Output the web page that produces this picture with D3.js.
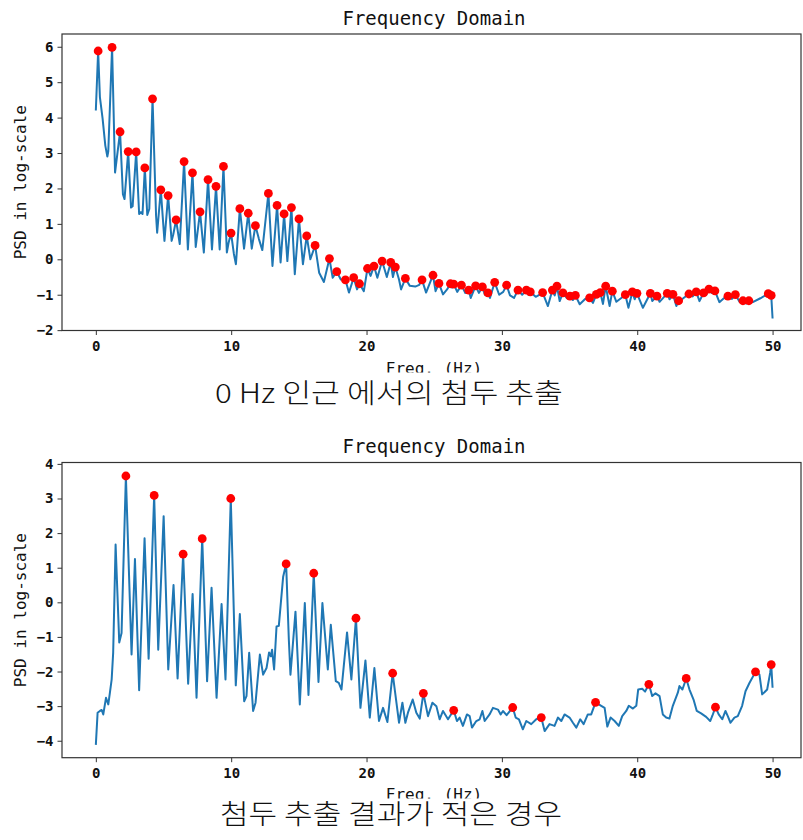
<!DOCTYPE html>
<html><head><meta charset="utf-8">
<script src="https://cdn.jsdelivr.net/npm/d3@7"></script>
<style>body{margin:0;background:#fff}svg{display:block}</style>
</head><body>
<svg id="c" width="803" height="840"></svg>
<script>
// ---------- data ----------
const xTicks = [0, 10, 20, 30, 40, 50];
const topYTicks = [-2, -1, 0, 1, 2, 3, 4, 5, 6];
const botYTicks = [-4, -3, -2, -1, 0, 1, 2, 3, 4];
const titleText = "Frequency Domain";
const xLabelText = "Freq. (Hz)";
const yLabelText = "PSD in log-scale";
const captions = ["0 Hz 인근 에서의 첨두 추출", "첨두 추출 결과가 적은 경우"];

// top panel: spectrum [freq, log PSD]
const topLine = [[0.0,4.20],[0.17,5.88],[0.3,4.58],[0.5,3.97],[0.7,3.21],[0.85,2.90],[0.92,3.05],[1.20,5.98],[1.42,2.45],[1.79,3.60],[2.0,1.84],[2.12,1.70],[2.39,3.04],[2.6,1.46],[2.72,1.50],[2.98,3.03],[3.2,1.28],[3.33,1.33],[3.45,1.28],[3.62,2.58],[3.8,1.25],[3.95,1.42],[4.19,4.53],[4.45,1.23],[4.53,0.75],[4.80,1.96],[5.07,0.52],[5.34,1.80],[5.6,0.52],[5.72,0.7],[5.93,1.11],[6.2,0.43],[6.52,2.76],[6.8,0.28],[7.14,2.44],[7.38,0.35],[7.70,1.34],[7.98,0.19],[8.29,2.25],[8.58,0.28],[8.88,2.06],[9.15,0.28],[9.43,2.62],[9.68,0.19],[9.8,0.45],[9.99,0.74],[10.2,0.15],[10.35,-0.14],[10.64,1.43],[10.95,0.3],[11.26,1.30],[11.52,0.3],[11.79,0.95],[12.05,0.57],[12.3,0.26],[12.75,1.86],[13.05,-0.19],[13.39,1.52],[13.65,-0.09],[13.91,1.28],[14.15,-0.05],[14.45,1.46],[14.7,-0.42],[15.01,1.14],[15.3,-0.14],[15.58,0.66],[15.85,0.0],[16.2,0.39],[16.5,-0.38],[16.85,-0.64],[17.26,0.02],[17.5,-0.52],[17.8,-0.35],[18.1,-0.57],[18.44,-0.58],[18.7,-0.94],[19.05,-0.52],[19.3,-0.85],[19.48,-0.69],[19.8,-0.9],[20.07,-0.26],[20.3,-0.47],[20.55,-0.19],[20.8,-0.52],[21.15,-0.05],[21.5,-0.5],[21.79,-0.09],[21.95,-0.5],[22.13,-0.22],[22.4,-0.57],[22.55,-0.85],[22.87,-0.54],[23.2,-0.75],[23.6,-0.77],[23.9,-0.72],[24.1,-0.58],[24.4,-0.94],[24.91,-0.45],[25.1,-0.9],[25.35,-0.68],[25.65,-0.99],[25.95,-0.85],[26.2,-0.69],[26.32,-0.8],[26.44,-0.70],[26.7,-0.92],[27.01,-0.73],[27.3,-0.95],[27.55,-0.87],[27.7,-1.09],[28.06,-0.75],[28.3,-0.95],[28.56,-0.78],[28.75,-1.0],[28.97,-0.95],[29.12,-1.09],[29.47,-0.65],[29.8,-1.0],[30.1,-0.92],[30.35,-0.73],[30.6,-1.02],[30.9,-1.09],[31.19,-0.87],[31.5,-1.0],[31.81,-0.87],[31.95,-1.0],[32.1,-0.92],[32.5,-1.06],[32.8,-1.0],[33.01,-0.94],[33.4,-1.32],[33.73,-0.87],[33.9,-1.02],[34.07,-0.76],[34.27,-1.18],[34.51,-0.95],[34.8,-1.1],[35.03,-1.04],[35.25,-1.15],[35.43,-1.02],[35.75,-1.27],[36.15,-1.12],[36.48,-1.09],[36.73,-1.23],[36.98,-0.99],[37.1,-1.05],[37.27,-0.94],[37.47,-1.26],[37.67,-0.76],[37.96,-1.32],[38.16,-0.90],[38.46,-1.2],[38.8,-1.1],[39.12,-1.00],[39.35,-1.37],[39.64,-0.92],[39.81,-1.13],[39.98,-0.96],[40.42,-1.37],[40.97,-0.96],[41.11,-1.18],[41.46,-1.04],[41.65,-1.2],[42.22,-0.96],[42.39,-1.13],[42.64,-0.99],[42.89,-1.32],[43.06,-1.17],[43.4,-1.1],[43.82,-0.98],[44.1,-1.05],[44.36,-0.92],[44.6,-1.18],[44.9,-0.95],[45.1,-1.0],[45.3,-0.84],[45.5,-0.95],[45.74,-0.89],[46.07,-1.21],[46.4,-1.1],[46.7,-1.04],[47.0,-1.12],[47.25,-1.00],[47.56,-1.2],[47.81,-1.17],[48.05,-1.25],[48.25,-1.17],[48.54,-1.21],[49.1,-1.1],[49.68,-0.97],[49.8,-1.05],[49.9,-1.02],[50.0,-1.67]];

const topPeaks = [[0.17,5.88],[1.20,5.98],[1.79,3.60],[2.39,3.04],[2.98,3.03],[3.62,2.58],[4.19,4.53],[4.80,1.96],[5.34,1.80],[5.93,1.11],[6.52,2.76],[7.14,2.44],[7.70,1.34],[8.29,2.25],[8.88,2.06],[9.43,2.62],[9.99,0.74],[10.64,1.43],[11.26,1.30],[11.79,0.95],[12.75,1.86],[13.39,1.52],[13.91,1.28],[14.45,1.46],[15.01,1.14],[15.58,0.66],[16.2,0.39],[17.26,0.02],[17.8,-0.35],[18.44,-0.58],[19.05,-0.52],[19.48,-0.69],[20.07,-0.26],[20.55,-0.19],[21.15,-0.05],[21.79,-0.09],[22.13,-0.22],[22.87,-0.54],[24.1,-0.58],[24.91,-0.45],[25.35,-0.68],[26.2,-0.69],[26.44,-0.70],[27.01,-0.73],[27.55,-0.87],[28.06,-0.75],[28.56,-0.78],[28.97,-0.95],[29.47,-0.65],[30.35,-0.73],[31.19,-0.87],[31.81,-0.87],[32.1,-0.92],[33.01,-0.94],[33.73,-0.87],[34.07,-0.76],[34.51,-0.95],[35.03,-1.04],[35.43,-1.02],[36.48,-1.09],[36.98,-0.99],[37.27,-0.94],[37.67,-0.76],[38.16,-0.90],[39.12,-1.00],[39.64,-0.92],[39.98,-0.96],[40.97,-0.96],[41.46,-1.04],[42.22,-0.96],[42.64,-0.99],[43.06,-1.17],[43.82,-0.98],[44.36,-0.92],[44.9,-0.95],[45.3,-0.84],[45.74,-0.89],[46.7,-1.04],[47.25,-1.00],[47.81,-1.17],[48.25,-1.17],[49.68,-0.97],[49.9,-1.02]];

// bottom panel
const botLine = [[0.0,-4.12],[0.13,-3.19],[0.30,-3.14],[0.43,-3.11],[0.55,-3.24],[0.75,-2.76],[0.92,-2.95],[1.04,-2.61],[1.17,-2.23],[1.28,-1.46],[1.46,1.67],[1.73,-1.16],[1.90,-0.89],[2.22,3.65],[2.64,-1.51],[2.89,1.25],[3.20,-2.54],[3.60,1.85],[3.90,-1.63],[4.31,3.09],[4.61,-1.37],[5.01,2.49],[5.35,-1.94],[5.74,0.50],[6.04,-2.2],[6.45,1.39],[6.82,-2.35],[7.15,0.24],[7.44,-2.76],[7.86,1.84],[8.22,-2.28],[8.55,0.42],[8.92,-2.76],[9.29,-0.05],[9.58,-2.23],[9.97,3.0],[10.34,-2.4],[10.64,-0.34],[10.96,-2.86],[11.13,-2.71],[11.33,-1.46],[11.62,-3.14],[11.80,-2.9],[12.12,-1.51],[12.36,-2.09],[12.61,-1.9],[12.80,-1.45],[12.93,-1.56],[13.02,-1.37],[13.17,-1.94],[13.35,-0.70],[13.52,-0.68],[13.84,0.74],[14.06,1.11],[14.26,-1.08],[14.38,-2.09],[14.75,-0.27],[15.07,-2.95],[15.44,-0.02],[15.71,-2.68],[16.10,0.84],[16.45,-2.30],[16.74,-0.02],[17.14,-1.94],[17.36,-0.65],[17.73,-2.28],[17.95,-2.33],[18.15,-2.52],[18.56,-0.87],[18.88,-2.23],[19.22,-0.46],[19.55,-3.05],[19.92,-1.68],[20.24,-3.33],[20.58,-1.9],[20.92,-3.43],[21.22,-3.05],[21.54,-3.46],[21.93,-2.05],[22.40,-3.48],[22.65,-2.9],[22.87,-3.48],[23.06,-3.19],[23.41,-2.81],[23.68,-3.19],[23.93,-3.36],[24.20,-2.63],[24.54,-3.29],[24.87,-2.9],[25.16,-3.0],[25.40,-3.38],[25.65,-3.14],[26.02,-3.38],[26.44,-3.12],[26.68,-3.43],[26.88,-3.33],[27.12,-3.57],[27.42,-3.24],[27.62,-3.29],[27.79,-3.62],[28.11,-3.43],[28.36,-3.38],[28.56,-3.14],[28.73,-3.43],[29.09,-3.24],[29.34,-3.05],[29.71,-3.1],[29.91,-3.24],[30.08,-3.14],[30.35,-3.26],[30.80,-3.04],[31.02,-3.33],[31.26,-3.38],[31.55,-3.67],[31.80,-3.43],[32.17,-3.52],[32.54,-3.38],[32.91,-3.33],[33.16,-3.72],[33.52,-3.52],[33.89,-3.57],[34.14,-3.33],[34.39,-3.43],[34.63,-3.24],[35.00,-3.33],[35.25,-3.48],[35.50,-3.62],[35.79,-3.38],[36.04,-3.52],[36.35,-3.24],[36.60,-3.24],[36.92,-2.89],[37.34,-2.99],[37.59,-3.05],[37.79,-3.59],[38.03,-3.33],[38.33,-3.43],[38.64,-3.57],[38.89,-3.29],[39.19,-3.14],[39.38,-2.99],[39.68,-3.07],[39.93,-2.99],[40.07,-2.52],[40.37,-2.5],[40.58,-2.58],[40.86,-2.37],[41.11,-2.71],[41.35,-2.63],[41.65,-2.71],[41.89,-3.24],[42.14,-3.33],[42.38,-3.36],[42.63,-2.99],[43.00,-2.61],[43.12,-2.42],[43.34,-2.52],[43.62,-2.2],[43.86,-2.52],[44.16,-2.81],[44.40,-3.14],[44.72,-3.21],[45.09,-3.31],[45.39,-3.43],[45.56,-3.27],[45.78,-3.03],[46.02,-3.24],[46.28,-3.38],[46.52,-3.14],[46.69,-3.29],[46.89,-3.48],[47.18,-3.33],[47.43,-3.29],[47.75,-2.99],[48.00,-2.57],[48.29,-2.33],[48.74,-2.01],[49.03,-2.09],[49.23,-2.66],[49.40,-2.6],[49.60,-2.52],[49.82,-2.04],[49.9,-1.8],[50.0,-2.47]];

const botPeaks = [[2.22,3.65],[4.31,3.09],[6.45,1.39],[7.86,1.84],[9.97,3.0],[14.06,1.11],[16.10,0.84],[19.22,-0.46],[21.93,-2.05],[24.20,-2.63],[26.44,-3.12],[30.80,-3.04],[32.91,-3.33],[36.92,-2.89],[40.86,-2.37],[43.62,-2.2],[45.78,-3.03],[48.74,-2.01],[49.9,-1.8]];

// ---------- drawing ----------
const svg = d3.select("#c");
svg.append("rect").attr("width", 803).attr("height", 840).attr("fill", "#fff");

const mono = "'DejaVu Sans Mono', 'Liberation Mono', monospace";
const fmt = d => d < 0 ? "\u2212" + Math.abs(d) : String(d);
const L = 62, R = 801;

function panel(cfg) {
  const x = d3.scaleLinear().domain([-2.5, 52.1]).range([L, R]);
  const y = d3.scaleLinear().domain(cfg.yDomain).range([cfg.bottom, cfg.top]);
  const g = svg.append("g");

  // line
  g.append("path").datum(cfg.line)
    .attr("fill", "none").attr("stroke", "#1f77b4").attr("stroke-width", 2)
    .attr("stroke-linejoin", "round")
    .attr("d", d3.line().x(d => x(d[0])).y(d => y(d[1])));

  // peaks
  g.selectAll("circle.pk").data(cfg.peaks).join("circle")
    .attr("class", "pk")
    .attr("cx", d => x(d[0])).attr("cy", d => y(d[1])).attr("r", 4.4)
    .attr("fill", "#ff0000");

  // frame
  g.append("rect").attr("x", L).attr("y", cfg.top)
    .attr("width", R - L).attr("height", cfg.bottom - cfg.top)
    .attr("fill", "none").attr("stroke", "#333").attr("stroke-width", 1.2);

  // axes
  const ax = g.append("g").attr("transform", `translate(0,${cfg.bottom})`)
    .call(d3.axisBottom(x).tickValues(xTicks).tickSize(4.5).tickPadding(6).tickFormat(fmt));
  const ay = g.append("g").attr("transform", `translate(${L},0)`)
    .call(d3.axisLeft(y).tickValues(cfg.yTicks).tickSize(4.5).tickPadding(4).tickFormat(fmt));
  [ax, ay].forEach(a => {
    a.select(".domain").remove();
    a.selectAll("line").attr("stroke", "#333");
    a.selectAll("text").attr("font-family", mono).attr("font-size", 14)
      .attr("font-weight", "bold").attr("fill", "#111");
  });

  // title
  g.append("text").attr("x", 434).attr("y", cfg.titleY).attr("text-anchor", "middle")
    .attr("font-family", mono).attr("font-size", 19).attr("fill", "#111").text(titleText);

  // y label
  g.append("text").attr("transform", `translate(26,${(cfg.top + cfg.bottom) / 2}) rotate(-90)`)
    .attr("text-anchor", "middle").attr("font-family", mono).attr("font-size", 16)
    .attr("fill", "#111").text(yLabelText);

  // x label (its lower edge is hidden under the caption band, as in the reference)
  g.append("text").attr("x", 434).attr("y", cfg.xLabelY).attr("text-anchor", "middle")
    .attr("font-family", mono).attr("font-size", 16).attr("fill", "#111").text(xLabelText);
  g.append("rect").attr("x", 0).attr("y", cfg.xLabelY - 1).attr("width", 803).attr("height", 12)
    .attr("fill", "#fff");

  // caption
  g.append("text").attr("x", cfg.capX).attr("y", cfg.capY).attr("text-anchor", "middle")
    .attr("font-family", "'Noto Sans CJK KR', 'Noto Sans', sans-serif")
    .attr("font-weight", 300).attr("font-size", 27).attr("fill", "#111")
    .attr("textLength", cfg.capW).attr("lengthAdjust", "spacingAndGlyphs")
    .text(cfg.caption);
}

panel({ line: topLine, peaks: topPeaks, yTicks: topYTicks, yDomain: [-2.01, 6.36],
  top: 34, bottom: 330.5, titleY: 25, xLabelY: 373.5,
  caption: captions[0], capX: 389, capY: 403, capW: 348 });
panel({ line: botLine, peaks: botPeaks, yTicks: botYTicks, yDomain: [-4.49, 4.04],
  top: 462.5, bottom: 757.7, titleY: 452.5, xLabelY: 799.5,
  caption: captions[1], capX: 391, capY: 824, capW: 342 });
</script>
</body></html>
